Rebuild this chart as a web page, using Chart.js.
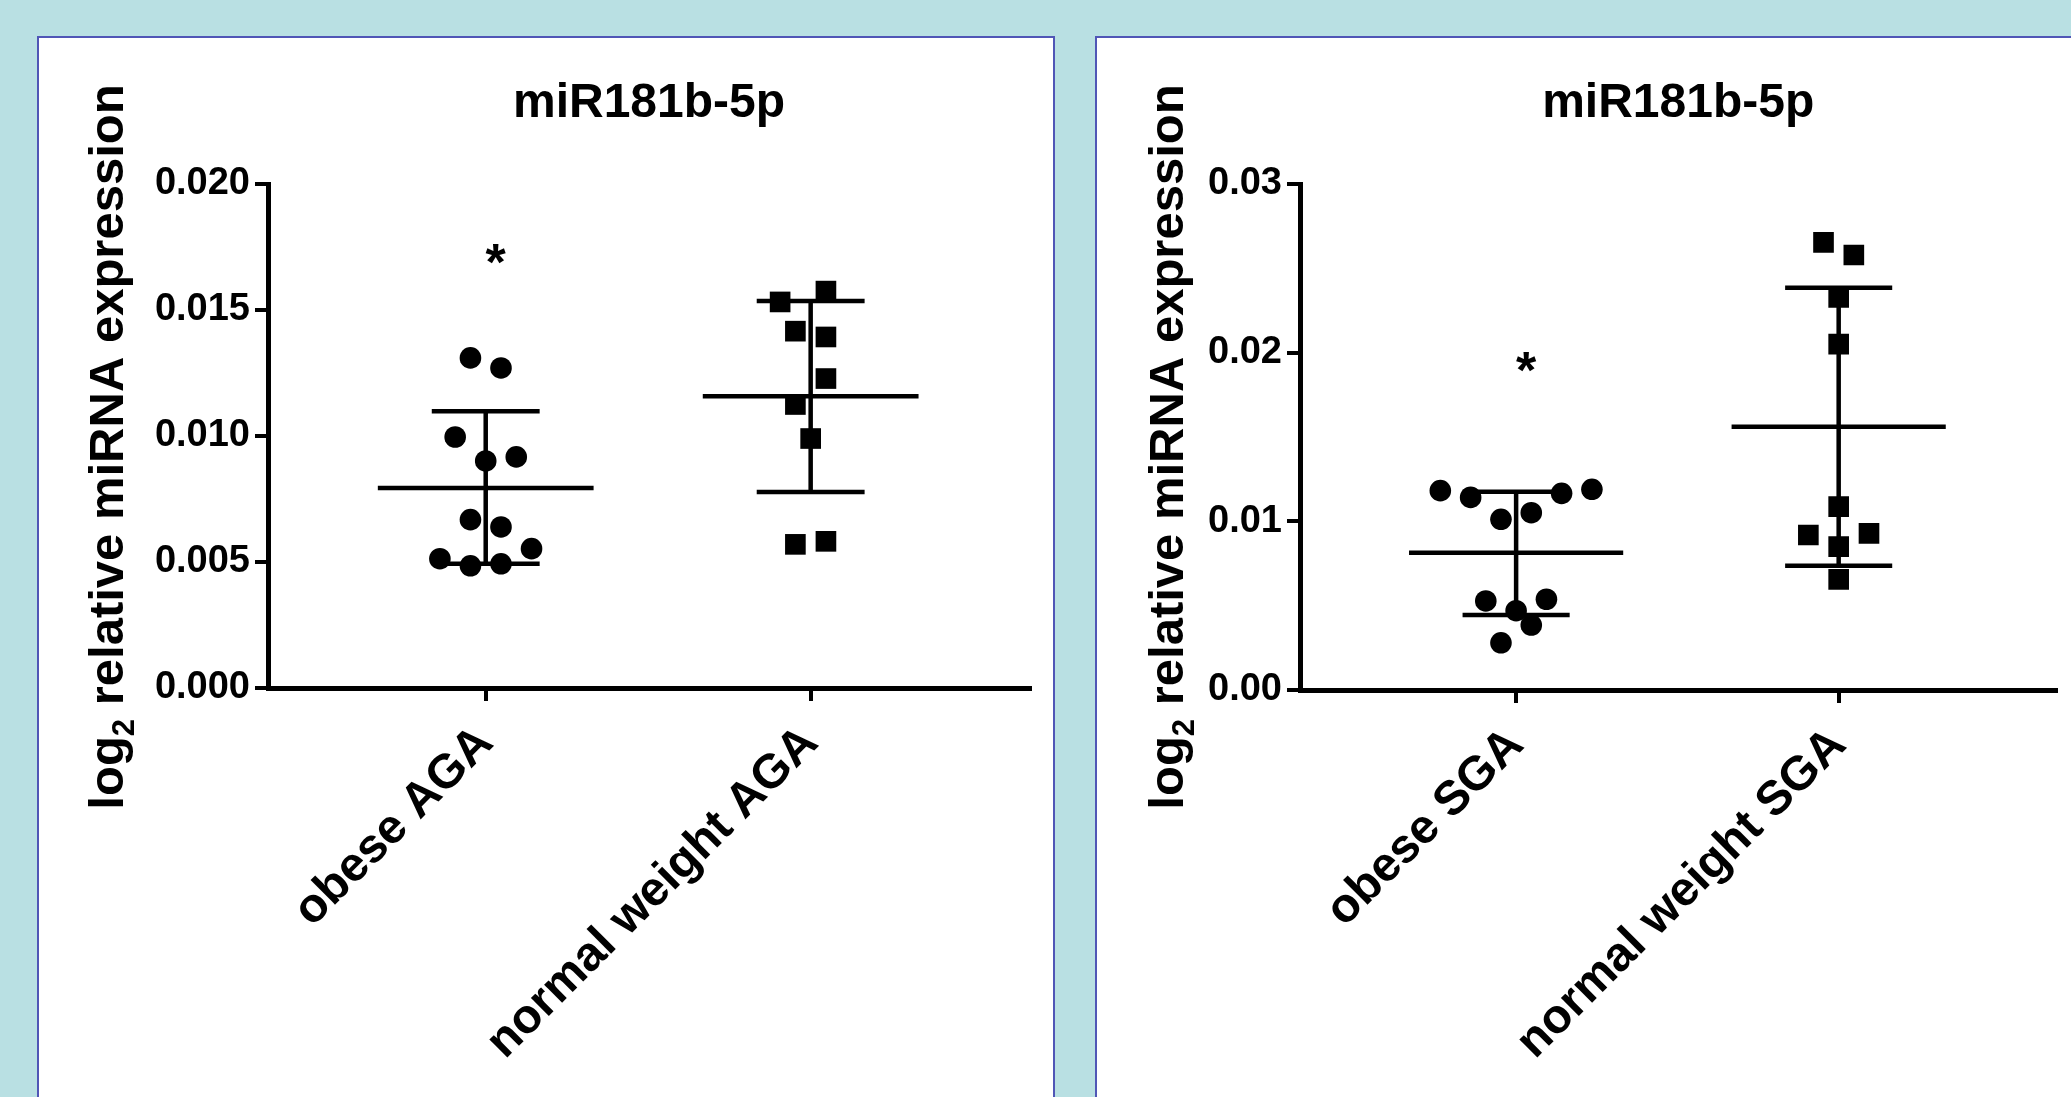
<!DOCTYPE html>
<html>
<head>
<meta charset="utf-8">
<script src="https://cdn.jsdelivr.net/npm/chart.js@4.4.1/dist/chart.umd.min.js"></script>
<style>
html, body { margin: 0; padding: 0; width: 2071px; height: 1097px; overflow: hidden; background: #b9e0e3; }
.panel { position: absolute; top: 36px; height: 1100px; background: #fff; border: 2px solid #5056b6; box-sizing: border-box; }
#panelA { left: 37px; width: 1018px; }
#panelB { left: 1095px; width: 1000px; }
canvas { position: absolute; }
#chartA { left: 39px; top: 38px; }
#chartB { left: 1097px; top: 38px; }
</style>
</head>
<body>
<div class="panel" id="panelA"></div>
<div class="panel" id="panelB"></div>
<canvas id="chartA" width="1014" height="1059"></canvas>
<canvas id="chartB" width="974" height="1059"></canvas>

<script>
// values
const chartTitle = 'miR181b-5p';
const categoriesA = ['obese AGA', 'normal weight AGA'];
const categoriesB = ['obese SGA', 'normal weight SGA'];

const obeseAGA = [0.0131, 0.0127, 0.00996, 0.00901, 0.00917, 0.00668, 0.00639, 0.00553, 0.00513, 0.00485, 0.00493];
const obeseAGAJitter = [-1, 1, -2, 0, 2, -1, 1, 3, -3, -1, 1];
const normalAGA = [0.01532, 0.01575, 0.01416, 0.01393, 0.01228, 0.01125, 0.0099, 0.0057, 0.00582];
const normalAGAJitter = [-2, 1, -1, 1, 1, -1, 0, -1, 1];

const obeseSGA = [0.01182, 0.01142, 0.01166, 0.0119, 0.01012, 0.01051, 0.00528, 0.00538, 0.0047, 0.00385, 0.0028];
const obeseSGAJitter = [-5, -3, 3, 5, -1, 1, -2, 2, 0, 1, -1];
const normalSGA = [0.02654, 0.02579, 0.02328, 0.02051, 0.01087, 0.00919, 0.00929, 0.0085, 0.00656];
const normalSGAJitter = [-1, 1, 0, 0, 0, -2, 2, 0, 0];

const meanA = [0.00794, 0.01158];
const sdUpperA = [0.01098, 0.01536];
const sdLowerA = [0.00493, 0.00778];
const meanB = [0.00814, 0.01561];
const sdUpperB = [0.01176, 0.02385];
const sdLowerB = [0.00445, 0.00737];

const starA = [0.0172, null];
const starB = [0.0194, null];

const yTicksA = ['0.000', '0.005', '0.010', '0.015', '0.020'];
const yTicksB = ['0.00', '0.01', '0.02', '0.03'];

const FONT = "'Liberation Sans', Arial, sans-serif";
const JITTER_STEP = 0.047;

function points(values, jitter, cat) {
    return values.map((v, i) => ({ x: cat + jitter[i] * JITTER_STEP, y: v }));
}

// mean line, SD bars and the asterisk
const scatterExtras = {
    id: 'scatterExtras',
    beforeDatasetsDraw(chart, args, opts) {
        const ctx = chart.ctx;
        const xs = chart.scales.x, ys = chart.scales.y;
        ctx.save();
        ctx.strokeStyle = '#000';
        ctx.lineWidth = 4.5;
        opts.mean.forEach((m, i) => {
            let yMean = ys.getPixelForValue(m);
            let yUp = ys.getPixelForValue(opts.upper[i]);
            let yLow = ys.getPixelForValue(opts.lower[i]);
            let cx = xs.getPixelForValue(i);
            ctx.beginPath();
            ctx.moveTo(xs.getPixelForValue(i - 0.332), yMean);
            ctx.lineTo(xs.getPixelForValue(i + 0.332), yMean);
            ctx.moveTo(xs.getPixelForValue(i - 0.166), yUp);
            ctx.lineTo(xs.getPixelForValue(i + 0.166), yUp);
            ctx.moveTo(xs.getPixelForValue(i - 0.166), yLow);
            ctx.lineTo(xs.getPixelForValue(i + 0.166), yLow);
            ctx.moveTo(cx, yUp);
            ctx.lineTo(cx, yLow);
            ctx.stroke();
        });
        ctx.restore();
    },
    afterDraw(chart, args, opts) {
        const ctx = chart.ctx;
        const xs = chart.scales.x, ys = chart.scales.y;
        const area = chart.chartArea;
        ctx.save();
        ctx.fillStyle = '#000';

        // asterisks
        ctx.font = 'bold 52px ' + FONT;
        ctx.textAlign = 'center';
        ctx.textBaseline = 'alphabetic';
        opts.star.forEach((s, i) => {
            if (s === null) return;
            ctx.fillText('*', xs.getPixelForValue(i) + 10, ys.getPixelForValue(s) + 25);
        });

        // title
        ctx.font = 'bold 48px ' + FONT;
        ctx.textBaseline = 'middle';
        ctx.fillText(chartTitle, (area.left + area.right) / 2, opts.titleY);

        // y axis title with subscript
        ctx.translate(opts.yTitleX, opts.yTitleY);
        ctx.rotate(-Math.PI / 2);
        ctx.textAlign = 'left';
        ctx.textBaseline = 'alphabetic';
        const size = opts.yTitleSize;
        const big = 'bold ' + size + 'px ' + FONT;
        const small = 'bold ' + Math.round(size * 0.64) + 'px ' + FONT;
        ctx.font = big;
        let w1 = ctx.measureText('log').width;
        let w3 = ctx.measureText(' relative miRNA expression').width;
        ctx.font = small;
        let w2 = ctx.measureText('2').width;
        let sx = -(w1 + w2 + w3) / 2;
        ctx.font = big;
        ctx.fillText('log', sx, 0);
        ctx.font = small;
        ctx.fillText('2', sx + w1, size * 0.22);
        ctx.font = big;
        ctx.fillText(' relative miRNA expression', sx + w1 + w2, 0);
        ctx.restore();
    }
};

function makeChart(id, cfg) {
    const canvas = document.getElementById(id);
    return new Chart(canvas, {
        type: 'scatter',
        data: {
            datasets: [
                {
                    data: points(cfg.first, cfg.firstJitter, 0),
                    pointStyle: 'circle',
                    pointRadius: 10.8,
                    backgroundColor: '#000',
                    borderWidth: 0
                },
                {
                    data: points(cfg.second, cfg.secondJitter, 1),
                    pointStyle: 'rect',
                    pointRadius: 14.6,
                    backgroundColor: '#000',
                    borderWidth: 0
                }
            ]
        },
        options: {
            responsive: false,
            animation: false,
            layout: { padding: { top: 146, right: cfg.padRight, bottom: 0, left: 0 } },
            plugins: {
                legend: { display: false },
                tooltip: { enabled: false },
                scatterExtras: {
                    mean: cfg.mean, upper: cfg.upper, lower: cfg.lower, star: cfg.star,
                    titleY: 66, yTitleX: cfg.yTitleX, yTitleY: 409, yTitleSize: 49
                }
            },
            scales: {
                x: {
                    type: 'linear',
                    min: -0.67,
                    max: 1.675,
                    afterBuildTicks(scale) { scale.ticks = [{ value: 0 }, { value: 1 }]; },
                    afterFit(scale) { scale.height = canvas.height - cfg.bottom; },
                    ticks: {
                        autoSkip: false,
                        maxRotation: 45,
                        minRotation: 45,
                        padding: 14,
                        color: '#000',
                        font: { family: FONT, size: 48, weight: 'bold' },
                        callback: (v, i) => cfg.categories[i]
                    },
                    grid: { drawOnChartArea: false, tickLength: 13, color: '#000', lineWidth: 4 },
                    border: { color: '#000', width: 5 }
                },
                y: {
                    min: 0,
                    max: parseFloat(cfg.yTicks[cfg.yTicks.length - 1]),
                    afterBuildTicks(scale) { scale.ticks = cfg.yTicks.map(t => ({ value: parseFloat(t) })); },
                    afterFit(scale) { scale.width = cfg.left; },
                    ticks: {
                        padding: 5,
                        color: '#000',
                        font: { family: FONT, size: 38, weight: 'bold' },
                        callback: (v, i) => cfg.yTicks[i]
                    },
                    grid: { drawOnChartArea: false, tickLength: 13, color: '#000', lineWidth: 4 },
                    border: { color: '#000', width: 5 }
                }
            }
        },
        plugins: [scatterExtras]
    });
}

makeChart('chartA', {
    categories: categoriesA,
    first: obeseAGA, firstJitter: obeseAGAJitter,
    second: normalAGA, secondJitter: normalAGAJitter,
    mean: meanA, upper: sdUpperA, lower: sdLowerA, star: starA,
    yTicks: yTicksA,
    left: 229, bottom: 650, padRight: 23, yTitleX: 84
});

makeChart('chartB', {
    categories: categoriesB,
    first: obeseSGA, firstJitter: obeseSGAJitter,
    second: normalSGA, secondJitter: normalSGAJitter,
    mean: meanB, upper: sdUpperB, lower: sdLowerB, star: starB,
    yTicks: yTicksB,
    left: 203, bottom: 652, padRight: 7, yTitleX: 86
});
</script>
</body>
</html>
